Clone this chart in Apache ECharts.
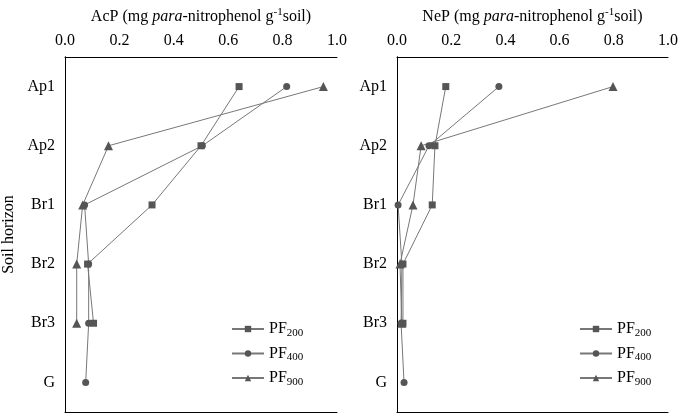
<!DOCTYPE html><html><head><meta charset="utf-8"><script src="https://cdn.jsdelivr.net/npm/echarts@6/dist/echarts.min.js"></script></head><body style="margin:0"><div id="c" style="width:685px;height:413px"></div><script>
const categories=['Ap1','Ap2','Br1','Br2','Br3','G'];
const seriesNames=['PF200','PF400','PF900'];
const acp200=[0.64,0.50,0.32,0.083,0.105,null];
const acp400=[0.815,0.505,0.072,0.087,0.087,0.076];
const acp900=[0.95,0.16,0.065,0.043,0.043,null];
const nep200=[0.18,0.14,0.13,0.022,0.022,null];
const nep400=[0.376,0.118,0.004,0.018,0.015,0.026];
const nep900=[0.797,0.089,0.059,0.011,0.018,null];
const xTicks=[0,0.2,0.4,0.6,0.8,1.0];
const symbols=['rect','circle','triangle'];
const ff='Liberation Serif';
const chart=echarts.init(document.getElementById('c'));
function xa(i,title){return {gridIndex:i,type:'value',position:'top',min:0,max:1,interval:0.2,
 axisLine:{show:true,lineStyle:{color:'#000'}},axisTick:{inside:true,lineStyle:{color:'#000'}},splitLine:{show:false},
 axisLabel:{color:'#000',fontFamily:ff,fontSize:16,formatter:v=>xTicks.includes(v)?v.toFixed(1):''},
 name:title,nameLocation:'middle',nameGap:31,nameTextStyle:{color:'#000',fontFamily:ff,fontSize:16,rich:{i:{fontStyle:'italic',fontFamily:ff,fontSize:16},s:{fontSize:11,verticalAlign:'top',padding:[0,0,8,0],fontFamily:ff}}}};}
function xb(i){return {gridIndex:i,type:'value',position:'bottom',min:0,max:1,axisLine:{show:true,lineStyle:{color:'#000'}},axisTick:{show:false},axisLabel:{show:false},splitLine:{show:false}};}
function ya(i,withName){return {gridIndex:i,type:'category',data:categories,inverse:true,boundaryGap:true,
 axisLine:{show:true,lineStyle:{color:'#000'}},axisTick:{show:false},
 axisLabel:{color:'#000',fontFamily:ff,fontSize:16,margin:10},
 name:withName?'Soil horizon':'',nameLocation:'middle',nameGap:48,nameTextStyle:{color:'#000',fontFamily:ff,fontSize:16}};}
function yr(i){return {gridIndex:i,type:'category',data:categories,inverse:true,position:'right',axisLine:{show:true,lineStyle:{color:'#000'}},axisTick:{show:false},axisLabel:{show:false}};}
const data=[[acp200,acp400,acp900],[nep200,nep400,nep900]];
const series=[];
data.forEach((arr,g)=>arr.forEach((d,k)=>series.push({type:'line',name:seriesNames[k],xAxisIndex:g*2,yAxisIndex:g*2,
 data:d.map((v,j)=>v==null?null:[v,categories[j]]),symbol:symbols[k],symbolSize:k==2?9:7,connectNulls:false,
 lineStyle:{color:'#777',width:1},itemStyle:{color:'#555'}})));
function leg(left){return {orient:'vertical',left:left,top:316,itemGap:7,itemWidth:32,itemHeight:8,data:seriesNames,
 formatter:n=>'{a|PF}{s|'+n.slice(2)+'}',textStyle:{color:'#000',fontFamily:ff,fontSize:16,rich:{a:{fontFamily:ff,fontSize:16},s:{fontFamily:ff,fontSize:11,verticalAlign:'bottom',padding:[8,0,0,0]}}}};}
chart.setOption({animation:false,
 grid:[{left:61,width:276,top:57,bottom:1},{left:397,width:271,top:57,bottom:1}],
 xAxis:[xa(0,'AcP (mg {i|para}-nitrophenol g{s|-1}soil)'),xb(0),xa(1,'NeP (mg {i|para}-nitrophenol g{s|-1}soil)'),xb(1)],
 yAxis:[ya(0,true),yr(0),ya(1,false),yr(1)],
 legend:[leg(226),leg(574)],series:series});
</script></body></html>
